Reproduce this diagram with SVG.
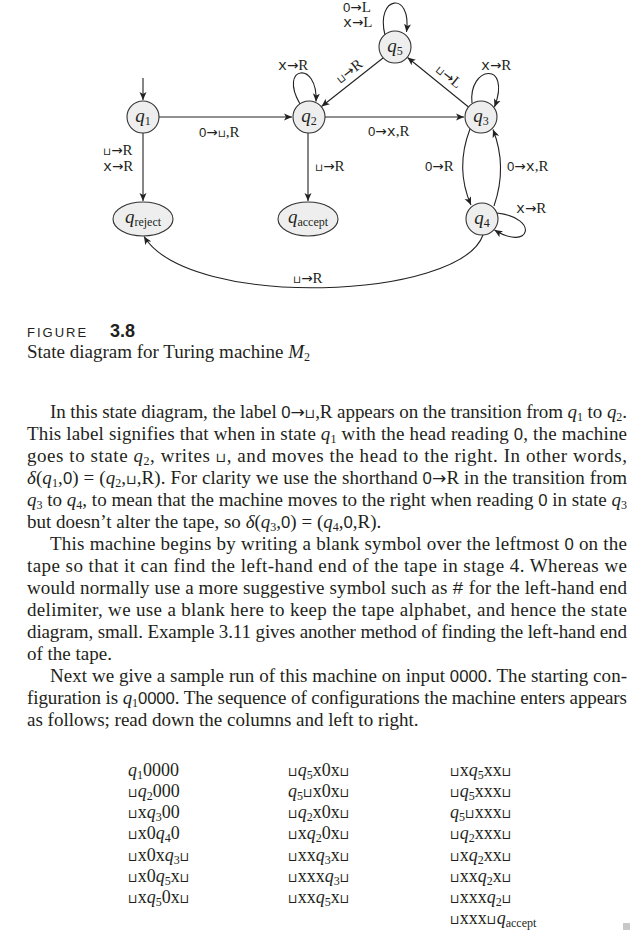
<svg xmlns="http://www.w3.org/2000/svg" width="641" height="931" viewBox="0 0 641 931">
<defs>
<marker id="ah" markerUnits="userSpaceOnUse" markerWidth="9" markerHeight="8" refX="8" refY="4" orient="auto">
<path d="M0,0.5 L8,4 L0,7.5 L2,4 Z" fill="#222"/>
</marker>
</defs>
<style>
text{font-family:"Liberation Serif","Times New Roman",serif;fill:#231f20}
.lb{font-size:15px}
.nd{font-size:19px;font-style:italic}
.ns{font-size:12px;font-style:normal}
.st{fill:#eeeeee;stroke:#333;stroke-width:1.1}
.ed{fill:none;stroke:#222;stroke-width:1.1;marker-end:url(#ah)}
.tt{font-family:"Liberation Mono","Courier New",monospace}
.z{font-family:"Liberation Sans",Arial,sans-serif;font-size:0.88em}
.ar{font-family:"DejaVu Sans",sans-serif;font-size:0.9em}
.b{font-family:"DejaVu Sans",sans-serif;font-size:0.7em}
.body{font-size:19px}
.i{font-style:italic}
.s{font-size:12px;baseline-shift:-3px}
.cf{font-size:18px}
</style>
<rect width="641" height="931" fill="#fff"/>

<g id="connectors">
<path class="ed" d="M143,78 L143,100"/>
<path class="ed" d="M159,117 L292,117"/>
<path class="ed" d="M325,117 L464,117"/>
<path class="ed" d="M143,133 L143,201"/>
<path class="ed" d="M308,133 L308,201"/>
<path class="ed" d="M383,58 L321.5,106.5"/>
<path class="ed" d="M468.5,107 L407.5,57.5"/>
<path class="ed" d="M300,104 C278,66 318,60 316,101.5"/>
<path class="ed" d="M385,35 C375,-4 412,-10 406.5,32"/>
<path class="ed" d="M472,103 C468,66 512,60 494.5,107"/>
<path class="ed" d="M470,129 C460,155 460,180 471,205"/>
<path class="ed" d="M494,206 C503,180 503,155 493,129.5"/>
<path class="ed" d="M497,213 C540,218 530,252 494.5,230"/>
<path class="ed" d="M483,235 C460,300 190,310 144,236.5"/>
</g>

<g id="edge-labels" class="lb">
<text x="343" y="12"><tspan class="z">0</tspan><tspan class="ar">→</tspan>L</text>
<text x="343" y="27"><tspan class="tt">x</tspan><tspan class="ar">→</tspan>L</text>
<text x="278" y="70"><tspan class="tt">x</tspan><tspan class="ar">→</tspan>R</text>
<text x="481" y="70"><tspan class="tt">x</tspan><tspan class="ar">→</tspan>R</text>
<text transform="translate(352,75) rotate(-38)" text-anchor="middle"><tspan class="b">⊔</tspan><tspan class="ar">→</tspan>R</text>
<text transform="translate(446,80) rotate(39)" text-anchor="middle"><tspan class="b">⊔</tspan><tspan class="ar">→</tspan>L</text>
<text x="199" y="137"><tspan class="z">0</tspan><tspan class="ar">→</tspan><tspan class="b">⊔</tspan>,R</text>
<text x="368" y="136"><tspan class="z">0</tspan><tspan class="ar">→</tspan><tspan class="tt">x</tspan>,R</text>
<text x="103" y="155"><tspan class="b">⊔</tspan><tspan class="ar">→</tspan>R</text>
<text x="103" y="171"><tspan class="tt">x</tspan><tspan class="ar">→</tspan>R</text>
<text x="315" y="171"><tspan class="b">⊔</tspan><tspan class="ar">→</tspan>R</text>
<text x="425" y="171"><tspan class="z">0</tspan><tspan class="ar">→</tspan>R</text>
<text x="507" y="171"><tspan class="z">0</tspan><tspan class="ar">→</tspan><tspan class="tt">x</tspan>,R</text>
<text x="516" y="213"><tspan class="tt">x</tspan><tspan class="ar">→</tspan>R</text>
<text x="293" y="283"><tspan class="b">⊔</tspan><tspan class="ar">→</tspan>R</text>
</g>

<g id="q1"><circle class="st" cx="143" cy="117" r="16"/><text class="nd" x="143" y="122" text-anchor="middle">q<tspan class="ns" dy="3">1</tspan></text></g>
<g id="q2"><circle class="st" cx="309" cy="117" r="16"/><text class="nd" x="309" y="122" text-anchor="middle">q<tspan class="ns" dy="3">2</tspan></text></g>
<g id="q5"><circle class="st" cx="395" cy="47" r="16"/><text class="nd" x="395" y="52" text-anchor="middle">q<tspan class="ns" dy="3">5</tspan></text></g>
<g id="q3"><circle class="st" cx="481" cy="117" r="16"/><text class="nd" x="481" y="122" text-anchor="middle">q<tspan class="ns" dy="3">3</tspan></text></g>
<g id="q4"><circle class="st" cx="482" cy="219" r="16"/><text class="nd" x="482" y="224" text-anchor="middle">q<tspan class="ns" dy="3">4</tspan></text></g>
<g id="qreject"><ellipse class="st" cx="143" cy="219" rx="30" ry="17"/><text class="nd" x="143" y="223" text-anchor="middle">q<tspan class="ns" dy="3">reject</tspan></text></g>
<g id="qaccept"><ellipse class="st" cx="308" cy="219" rx="30" ry="17"/><text class="nd" x="308" y="223" text-anchor="middle">q<tspan class="ns" dy="3">accept</tspan></text></g>

<g id="caption">
<text x="27" y="337" style="font-family:'Liberation Sans',Arial,sans-serif;font-size:13px;letter-spacing:2px">FIGURE</text>
<text x="110" y="337" style="font-family:'Liberation Sans',Arial,sans-serif;font-size:18px;font-weight:bold">3.8</text>
<text x="27" y="358" style="font-size:19px">State diagram for Turing machine <tspan class="i">M</tspan><tspan class="s">2</tspan></text>
</g>

<g id="body" class="body">
<text x="50" y="418" textLength="577" lengthAdjust="spacing">In this state diagram, the label <tspan class="z">0</tspan><tspan class="ar">→</tspan><tspan class="b">⊔</tspan>,R appears on the transition from <tspan class="i">q</tspan><tspan class="s">1</tspan> to <tspan class="i">q</tspan><tspan class="s">2</tspan>.</text>
<text x="27" y="440" textLength="600" lengthAdjust="spacing">This label signifies that when in state <tspan class="i">q</tspan><tspan class="s">1</tspan> with the head reading <tspan class="z">0</tspan>, the machine</text>
<text x="27" y="462" textLength="600" lengthAdjust="spacing">goes to state <tspan class="i">q</tspan><tspan class="s">2</tspan>, writes <tspan class="b">⊔</tspan>, and moves the head to the right. In other words,</text>
<text x="27" y="484" textLength="600" lengthAdjust="spacing"><tspan class="i">δ</tspan>(<tspan class="i">q</tspan><tspan class="s">1</tspan>,<tspan class="z">0</tspan>) = (<tspan class="i">q</tspan><tspan class="s">2</tspan>,<tspan class="b">⊔</tspan>,R). For clarity we use the shorthand <tspan class="z">0</tspan><tspan class="ar">→</tspan>R in the transition from</text>
<text x="27" y="506" textLength="600" lengthAdjust="spacing"><tspan class="i">q</tspan><tspan class="s">3</tspan> to <tspan class="i">q</tspan><tspan class="s">4</tspan>, to mean that the machine moves to the right when reading <tspan class="z">0</tspan> in state <tspan class="i">q</tspan><tspan class="s">3</tspan></text>
<text x="27" y="528">but doesn’t alter the tape, so <tspan class="i">δ</tspan>(<tspan class="i">q</tspan><tspan class="s">3</tspan>,<tspan class="z">0</tspan>) = (<tspan class="i">q</tspan><tspan class="s">4</tspan>,<tspan class="z">0</tspan>,R).</text>
<text x="50" y="550" textLength="577" lengthAdjust="spacing">This machine begins by writing a blank symbol over the leftmost <tspan class="z">0</tspan> on the</text>
<text x="27" y="572" textLength="600" lengthAdjust="spacing">tape so that it can find the left-hand end of the tape in stage 4. Whereas we</text>
<text x="27" y="594" textLength="600" lengthAdjust="spacing">would normally use a more suggestive symbol such as <tspan class="tt">#</tspan> for the left-hand end</text>
<text x="27" y="616" textLength="600" lengthAdjust="spacing">delimiter, we use a blank here to keep the tape alphabet, and hence the state</text>
<text x="27" y="638" textLength="600" lengthAdjust="spacing">diagram, small. Example 3.11 gives another method of finding the left-hand end</text>
<text x="27" y="660">of the tape.</text>
<text x="50" y="682" textLength="577" lengthAdjust="spacing">Next we give a sample run of this machine on input <tspan class="z">0000</tspan>. The starting con-</text>
<text x="27" y="704" textLength="600" lengthAdjust="spacing">figuration is <tspan class="i">q</tspan><tspan class="s">1</tspan><tspan class="z">0000</tspan>. The sequence of configurations the machine enters appears</text>
<text x="27" y="726">as follows; read down the columns and left to right.</text>
</g>

<g id="configurations" class="cf">
<text x="128" y="776"><tspan class="i">q</tspan><tspan class="s">1</tspan>0000</text>
<text x="128" y="797"><tspan class="b">⊔</tspan><tspan class="i">q</tspan><tspan class="s">2</tspan>000</text>
<text x="128" y="818"><tspan class="b">⊔</tspan>x<tspan class="i">q</tspan><tspan class="s">3</tspan>00</text>
<text x="128" y="839"><tspan class="b">⊔</tspan>x0<tspan class="i">q</tspan><tspan class="s">4</tspan>0</text>
<text x="128" y="861"><tspan class="b">⊔</tspan>x0x<tspan class="i">q</tspan><tspan class="s">3</tspan><tspan class="b">⊔</tspan></text>
<text x="128" y="882"><tspan class="b">⊔</tspan>x0<tspan class="i">q</tspan><tspan class="s">5</tspan>x<tspan class="b">⊔</tspan></text>
<text x="128" y="903"><tspan class="b">⊔</tspan>x<tspan class="i">q</tspan><tspan class="s">5</tspan>0x<tspan class="b">⊔</tspan></text>

<text x="288" y="776"><tspan class="b">⊔</tspan><tspan class="i">q</tspan><tspan class="s">5</tspan>x0x<tspan class="b">⊔</tspan></text>
<text x="288" y="797"><tspan class="i">q</tspan><tspan class="s">5</tspan><tspan class="b">⊔</tspan>x0x<tspan class="b">⊔</tspan></text>
<text x="288" y="818"><tspan class="b">⊔</tspan><tspan class="i">q</tspan><tspan class="s">2</tspan>x0x<tspan class="b">⊔</tspan></text>
<text x="288" y="839"><tspan class="b">⊔</tspan>x<tspan class="i">q</tspan><tspan class="s">2</tspan>0x<tspan class="b">⊔</tspan></text>
<text x="288" y="861"><tspan class="b">⊔</tspan>xx<tspan class="i">q</tspan><tspan class="s">3</tspan>x<tspan class="b">⊔</tspan></text>
<text x="288" y="882"><tspan class="b">⊔</tspan>xxx<tspan class="i">q</tspan><tspan class="s">3</tspan><tspan class="b">⊔</tspan></text>
<text x="288" y="903"><tspan class="b">⊔</tspan>xx<tspan class="i">q</tspan><tspan class="s">5</tspan>x<tspan class="b">⊔</tspan></text>

<text x="450" y="776"><tspan class="b">⊔</tspan>x<tspan class="i">q</tspan><tspan class="s">5</tspan>xx<tspan class="b">⊔</tspan></text>
<text x="450" y="797"><tspan class="b">⊔</tspan><tspan class="i">q</tspan><tspan class="s">5</tspan>xxx<tspan class="b">⊔</tspan></text>
<text x="450" y="818"><tspan class="i">q</tspan><tspan class="s">5</tspan><tspan class="b">⊔</tspan>xxx<tspan class="b">⊔</tspan></text>
<text x="450" y="839"><tspan class="b">⊔</tspan><tspan class="i">q</tspan><tspan class="s">2</tspan>xxx<tspan class="b">⊔</tspan></text>
<text x="450" y="861"><tspan class="b">⊔</tspan>x<tspan class="i">q</tspan><tspan class="s">2</tspan>xx<tspan class="b">⊔</tspan></text>
<text x="450" y="882"><tspan class="b">⊔</tspan>xx<tspan class="i">q</tspan><tspan class="s">2</tspan>x<tspan class="b">⊔</tspan></text>
<text x="450" y="903"><tspan class="b">⊔</tspan>xxx<tspan class="i">q</tspan><tspan class="s">2</tspan><tspan class="b">⊔</tspan></text>
<text x="450" y="924"><tspan class="b">⊔</tspan>xxx<tspan class="b">⊔</tspan><tspan class="i">q</tspan><tspan class="s">accept</tspan></text>
</g>
<rect x="623" y="923" width="7" height="7" fill="#c8c8c8"/>
</svg>
